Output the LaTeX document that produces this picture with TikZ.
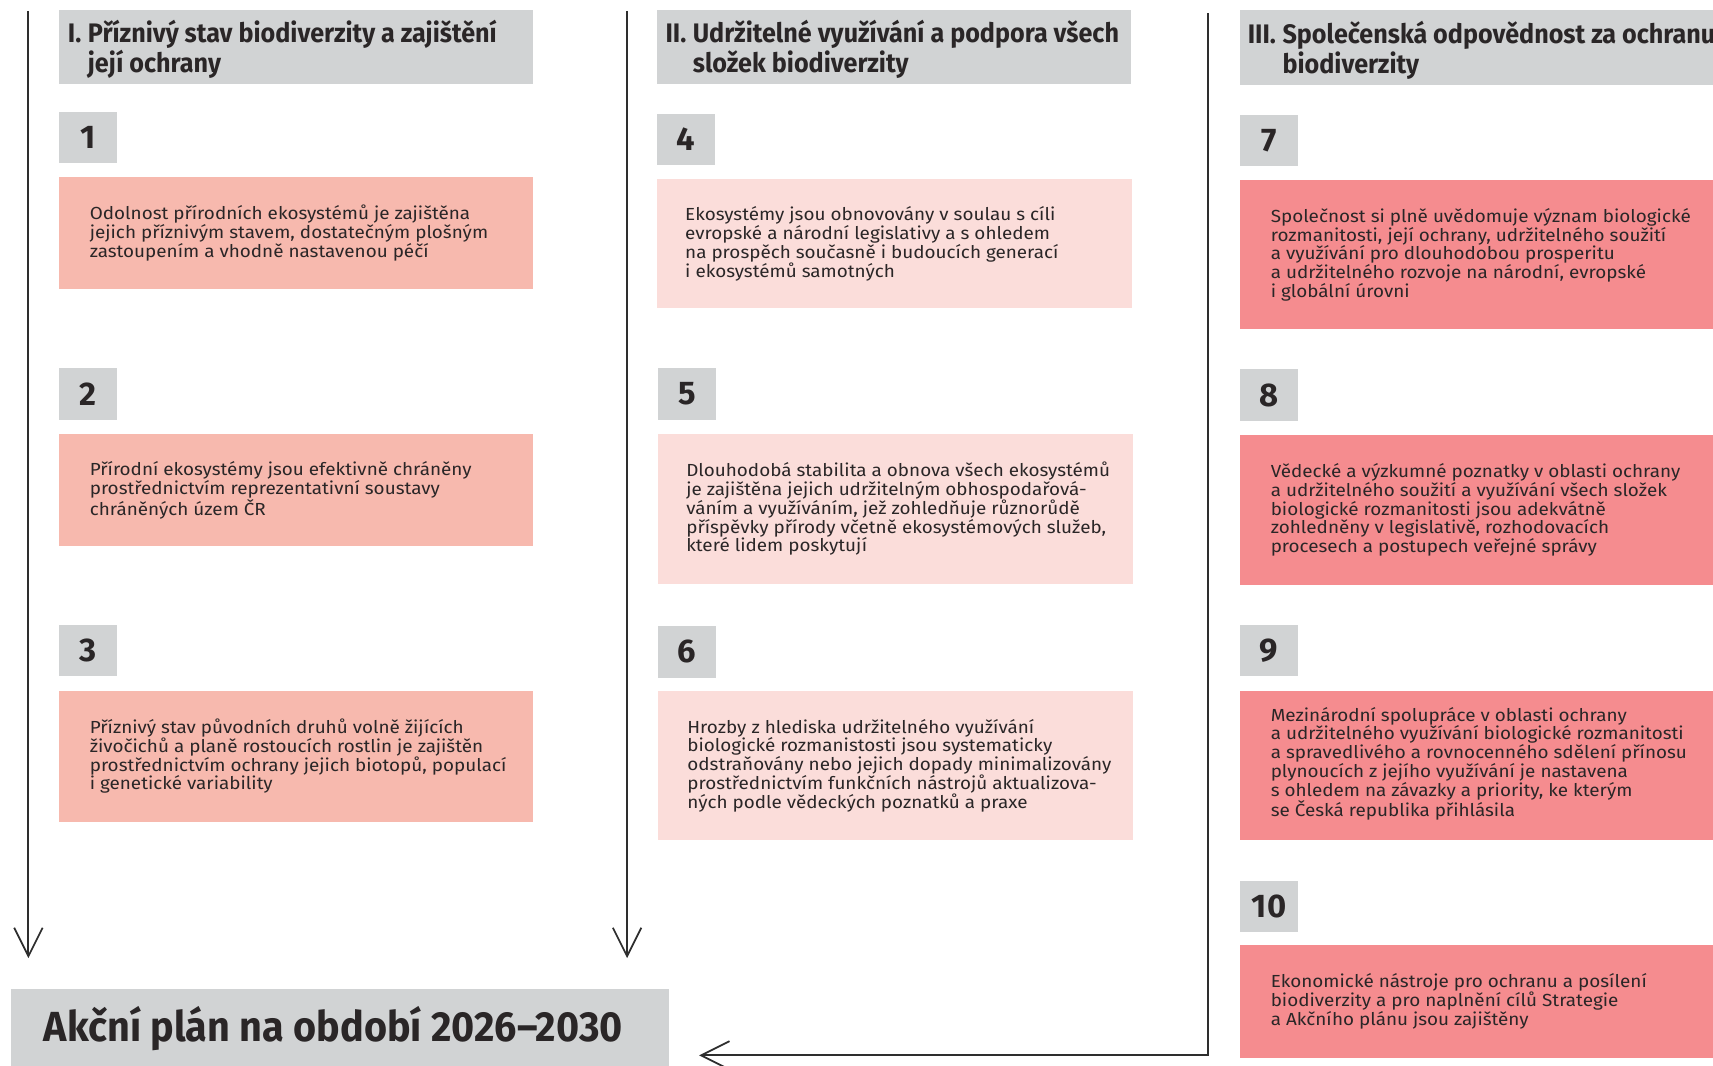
\documentclass[tikz,border=0pt]{standalone}
\usepackage{fontspec}
\setmainfont[FakeStretch=1.08]{Fira Sans}
\newfontfamily\hdfont[FakeStretch=0.94]{Fira Sans}
\newfontfamily\numfont{Fira Sans}
\usetikzlibrary{arrows.meta}
\definecolor{grayc}{HTML}{D1D3D4}
\definecolor{colA}{HTML}{F7B9AE}
\definecolor{colB}{HTML}{FBDDDA}
\definecolor{colC}{HTML}{F58C8F}
\definecolor{ink}{HTML}{2A2627}
\definecolor{linec}{HTML}{2E2E2E}
\tikzset{
  hdbox/.style={fill=grayc, inner sep=0pt, minimum width=434pt, minimum height=68pt, anchor=north west},
  hdtext/.style={inner sep=0pt, anchor=west, text=ink, font=\hdfont\bfseries\fontsize{24.5}{25}\selectfont},
  numbox/.style={fill=grayc, inner sep=0pt, minimum width=53pt, minimum height=47pt, anchor=north west, text=ink, font=\numfont\bfseries\fontsize{30}{30}\selectfont},
  goalA/.style={fill=colA, inner sep=0pt, minimum width=434pt, anchor=north west},
  goalB/.style={fill=colB, inner sep=0pt, minimum width=435pt, anchor=north west},
  goalC/.style={fill=colC, inner sep=0pt, minimum width=434pt, anchor=north west},
  goaltext/.style={inner sep=0pt, anchor=west, align=left, text=ink, font=\fontsize{16}{17.2}\selectfont},
  flow/.style={draw=linec, line width=2pt, -{Straight Barb[length=26pt,width=26pt,line width=1.6pt]}}
}
\begin{document}
\begin{tikzpicture}[x=1pt,y=-1pt]
\useasboundingbox (0,0) rectangle (1568,975);

% ---------- column I ----------
\node[hdbox] (h1) at (54,9) {};
\node[hdtext] (h1t) at ([xshift=8pt,yshift=-3pt]h1.west) {\begin{tabular}{@{}l@{\hspace{6pt}}l@{}}I. & Příznivý stav biodiverzity a zajištění\\ & její ochrany\end{tabular}};
\node[numbox] (n1) at (54,102) {1};
\node[goalA, minimum height=102pt] (g1) at (54,162) {};
\node[goaltext] (g1t) at ([xshift=28pt]g1.west) {Odolnost přírodních ekosystémů je zajištěna\\jejich příznivým stavem, dostatečným plošným\\zastoupením a vhodně nastavenou péčí};
\node[numbox] (n2) at (54,337) {2};
\node[goalA, minimum height=103pt] (g2) at (54,397) {};
\node[goaltext] (g2t) at ([xshift=28pt]g2.west) {Přírodní ekosystémy jsou efektivně chráněny\\prostřednictvím reprezentativní soustavy\\chráněných územ ČR};
\node[numbox] (n3) at (54,572) {3};
\node[goalA, minimum height=120pt] (g3) at (54,632) {};
\node[goaltext] (g3t) at ([xshift=28pt]g3.west) {Příznivý stav původních druhů volně žijících\\živočichů a planě rostoucích rostlin je zajištěn\\prostřednictvím ochrany jejich biotopů, populací\\i genetické variability};

% ---------- column II ----------
\node[hdbox] (h2) at (601,9) {};
\node[hdtext] (h2t) at ([xshift=8pt,yshift=-3pt]h2.west) {\begin{tabular}{@{}l@{\hspace{6pt}}l@{}}II. & Udržitelné využívání a podpora všech\\ & složek biodiverzity\end{tabular}};
\node[numbox] (n4) at (601,104) {4};
\node[goalB, minimum height=118pt] (g4) at (601,164) {};
\node[goaltext] (g4t) at ([xshift=26pt]g4.west) {Ekosystémy jsou obnovovány v soulau s cíli\\evropské a národní legislativy a s ohledem\\na prospěch současně i budoucích generací\\i ekosystémů samotných};
\node[numbox] (n5) at (602,337) {5};
\node[goalB, minimum height=137pt] (g5) at (602,397) {};
\node[goaltext] (g5t) at ([xshift=26pt]g5.west) {Dlouhodobá stabilita a obnova všech ekosystémů\\je zajištěna jejich udržitelným obhospodařová-\\váním a využíváním, jež zohledňuje různorůdě\\příspěvky přírody včetně ekosystémových služeb,\\které lidem poskytují};
\node[numbox] (n6) at (602,573) {6};
\node[goalB, minimum height=137pt] (g6) at (602,632) {};
\node[goaltext] (g6t) at ([xshift=27pt]g6.west) {Hrozby z hlediska udržitelného využívání\\biologické rozmanistosti jsou systematicky\\odstraňovány nebo jejich dopady minimalizovány\\prostřednictvím funkčních nástrojů aktualizova-\\ných podle vědeckých poznatků a praxe};

% ---------- column III ----------
\node[hdbox, minimum height=69pt] (h3) at (1135,9) {};
\node[hdtext] (h3t) at ([xshift=7pt,yshift=-3pt]h3.west) {\begin{tabular}{@{}l@{\hspace{6pt}}l@{}}III. & Společenská odpovědnost za ochranu\\ & biodiverzity\end{tabular}};
\node[numbox] (n7) at (1135,105) {7};
\node[goalC, minimum height=136pt] (g7) at (1135,165) {};
\node[goaltext] (g7t) at ([xshift=28pt]g7.west) {Společnost si plně uvědomuje význam biologické\\rozmanitosti, její ochrany, udržitelného soužití\\a využívání pro dlouhodobou prosperitu\\a udržitelného rozvoje na národní, evropské\\i globální úrovni};
\node[numbox] (n8) at (1135,338) {8};
\node[goalC, minimum height=137pt] (g8) at (1135,398) {};
\node[goaltext] (g8t) at ([xshift=28pt]g8.west) {Vědecké a výzkumné poznatky v oblasti ochrany\\a udržitelného soužití a využívání všech složek\\biologické rozmanitosti jsou adekvátně\\zohledněny v legislativě, rozhodovacích\\procesech a postupech veřejné správy};
\node[numbox] (n9) at (1135,572) {9};
\node[goalC, minimum height=137pt] (g9) at (1135,632) {};
\node[goaltext] (g9t) at ([xshift=28pt,yshift=1.5pt]g9.west) {Mezinárodní spolupráce v oblasti ochrany\\a udržitelného využívání biologické rozmanitosti\\a spravedlivého a rovnocenného sdělení přínosu\\plynoucích z jejího využívání je nastavena\\s ohledem na závazky a priority, ke kterým\\se Česká republika přihlásila};
\node[numbox] (n10) at (1135,806) {10};
\node[goalC, minimum height=103pt] (g10) at (1135,865) {};
\node[goaltext] (g10t) at ([xshift=28pt]g10.west) {Ekonomické nástroje pro ochranu a posílení\\biodiverzity a pro naplnění cílů Strategie\\a Akčního plánu jsou zajištěny};

% ---------- action plan ----------
\node[fill=grayc, inner sep=0pt, minimum width=602pt, minimum height=72pt, anchor=north west] (ap) at (10,905) {};
\node[inner sep=0pt, anchor=west, text=ink, font=\hdfont\bfseries\fontsize{38.5}{38.5}\selectfont] (apt) at ([xshift=30pt,yshift=0pt]ap.west) {Akční plán na období 2026–2030};

% ---------- flow lines ----------
\coordinate (c1a) at (26,10);
\coordinate (c1b) at (26,877);
\coordinate (c2a) at (574,10);
\coordinate (c2b) at (574,877);
\coordinate (c3a) at (1106,12);
\coordinate (c3b) at (640,966);
\draw[flow] (c1a) -- (c1b);
\draw[flow] (c2a) -- (c2b);
\draw[flow] (c3a) |- (c3b);
\end{tikzpicture}
\end{document}
